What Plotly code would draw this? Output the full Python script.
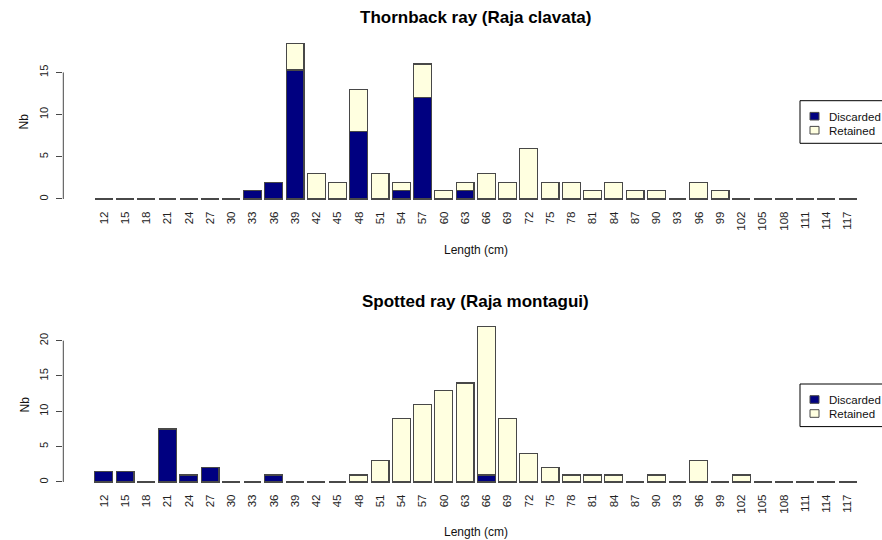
import plotly.graph_objects as go

# ---------------- data ----------------
lengths = [12, 15, 18, 21, 24, 27, 30, 33, 36, 39, 42, 45, 48, 51, 54, 57, 60, 63,
           66, 69, 72, 75, 78, 81, 84, 87, 90, 93, 96, 99, 102, 105, 108, 111, 114, 117]
tick_labels = [str(v) for v in lengths]

thornback_discarded = [0, 0, 0, 0, 0, 0, 0, 1, 2, 15.3, 0, 0, 8, 0, 1, 12, 0, 1,
                       0, 0, 0, 0, 0, 0, 0, 0, 0, 0, 0, 0, 0, 0, 0, 0, 0, 0]
thornback_retained = [0, 0, 0, 0, 0, 0, 0, 0, 0, 3.1, 3, 2, 5, 3, 1, 4, 1, 1,
                      3, 2, 6, 2, 2, 1, 2, 1, 1, 0, 2, 1, 0, 0, 0, 0, 0, 0]

spotted_discarded = [1.5, 1.5, 0, 7.5, 1, 2, 0, 0, 1, 0, 0, 0, 0, 0, 0, 0, 0, 0,
                     1, 0, 0, 0, 0, 0, 0, 0, 0, 0, 0, 0, 0, 0, 0, 0, 0, 0]
spotted_retained = [0, 0, 0, 0, 0, 0, 0, 0, 0, 0, 0, 0, 1, 3, 9, 11, 13, 14,
                    21, 9, 4, 2, 1, 1, 1, 0, 1, 0, 3, 0, 1, 0, 0, 0, 0, 0]

top_yticks = [0, 5, 10, 15]
bottom_yticks = [0, 5, 10, 15, 20]

series_names = ["Discarded", "Retained"]
colors = {"Discarded": "#000080", "Retained": "#FFFFE0"}
edge = "#484848"
FONT = "Liberation Sans, Arial, sans-serif"

W, H = 882, 540


def px(x):
    return x / W


def py(y):
    return 1 - y / H


xdom = [px(63.3), 1.0]
top_dom = [py(205.2), py(37.5)]
bot_dom = [py(488.2), py(320.3)]
xrange_ = [-1.906, 36.62]

fig = go.Figure()


def add_pair(disc, ret, xa, ya):
    for name, vals in zip(series_names, [disc, ret]):
        fig.add_trace(go.Bar(
            x=tick_labels, y=vals, name=name, showlegend=False,
            marker=dict(color=colors[name], line=dict(color=edge, width=1.2)),
            xaxis=xa, yaxis=ya, hoverinfo="x+y+name",
        ))


add_pair(thornback_discarded, thornback_retained, "x", "y")
add_pair(spotted_discarded, spotted_retained, "x2", "y2")

xcommon = dict(type="category", range=xrange_, domain=xdom, showline=False,
               showgrid=False, zeroline=False, ticks="", tickangle=-90,
               tickfont=dict(family=FONT, size=11.5, color="#222"),
               ticklabelstandoff=3, fixedrange=True)
ycommon = dict(showline=False, showgrid=False, zeroline=False, ticks="outside",
               ticklen=6, tickcolor=edge, tickwidth=1, tickangle=-90,
               tickfont=dict(family=FONT, size=11, color="#222"),
               ticklabelstandoff=4)

fig.update_layout(
    width=W, height=H, margin=dict(l=0, r=0, t=0, b=0),
    paper_bgcolor="white", plot_bgcolor="white",
    barmode="stack", bargap=0.16, showlegend=False,
    xaxis=dict(**xcommon, anchor="y"),
    xaxis2=dict(**xcommon, anchor="y2"),
    yaxis=dict(**ycommon, domain=top_dom, range=[-0.736, 19.14],
               tickvals=top_yticks, anchor="x"),
    yaxis2=dict(**ycommon, domain=bot_dom, range=[-0.88, 22.88],
                tickvals=bottom_yticks, anchor="x2"),
)

shapes = []
# y-axis lines spanning the tick range only (R style)
for ya, ticks in [("y", top_yticks), ("y2", bottom_yticks)]:
    shapes.append(dict(type="line", xref="paper", yref=ya, x0=xdom[0], x1=xdom[0],
                       y0=ticks[0], y1=ticks[-1], line=dict(color=edge, width=1)))

cx = px(475.5)
ann = []
for title, ty in [("Thornback ray (Raja clavata)", 18.0), ("Spotted ray (Raja montagui)", 301.0)]:
    ann.append(dict(text="<b>%s</b>" % title, x=cx, y=py(ty), xref="paper", yref="paper",
                    showarrow=False, xanchor="center", yanchor="middle",
                    font=dict(family=FONT, size=17, color="#000")))
for ly in [250, 532]:
    ann.append(dict(text="Length (cm)", x=cx, y=py(ly), xref="paper", yref="paper",
                    showarrow=False, xanchor="center", yanchor="middle",
                    font=dict(family=FONT, size=12, color="#111")))
for ny in [121.5, 404.5]:
    ann.append(dict(text="Nb", x=px(24), y=py(ny), xref="paper", yref="paper",
                    showarrow=False, xanchor="center", yanchor="middle", textangle=-90,
                    font=dict(family=FONT, size=12, color="#111")))

# legends (R-style boxed legend at right of each panel)
for top in [100.7, 384.0]:
    shapes.append(dict(type="rect", xref="paper", yref="paper",
                       x0=px(800), x1=1.05, y0=py(top + 42.6), y1=py(top),
                       line=dict(color="#000", width=1), fillcolor="white"))
    for i, name in enumerate(series_names):
        cy = top + 15.5 + 14 * i
        shapes.append(dict(type="rect", xref="paper", yref="paper",
                           x0=px(810), x1=px(819), y0=py(cy + 3.8), y1=py(cy - 3.8),
                           line=dict(color=edge, width=1), fillcolor=colors[name]))
        ann.append(dict(text=name, x=px(827), y=py(cy + 0.5), xref="paper", yref="paper",
                        showarrow=False, xanchor="left", yanchor="middle",
                        font=dict(family=FONT, size=11.5, color="#111")))

fig.update_layout(annotations=ann, shapes=shapes)

fig.write_html(
    "out.html",
    config={"displayModeBar": False},
    post_script="document.documentElement.style.margin='0';"
                "document.body.style.margin='0';"
                "document.body.style.overflow='hidden';",
)
